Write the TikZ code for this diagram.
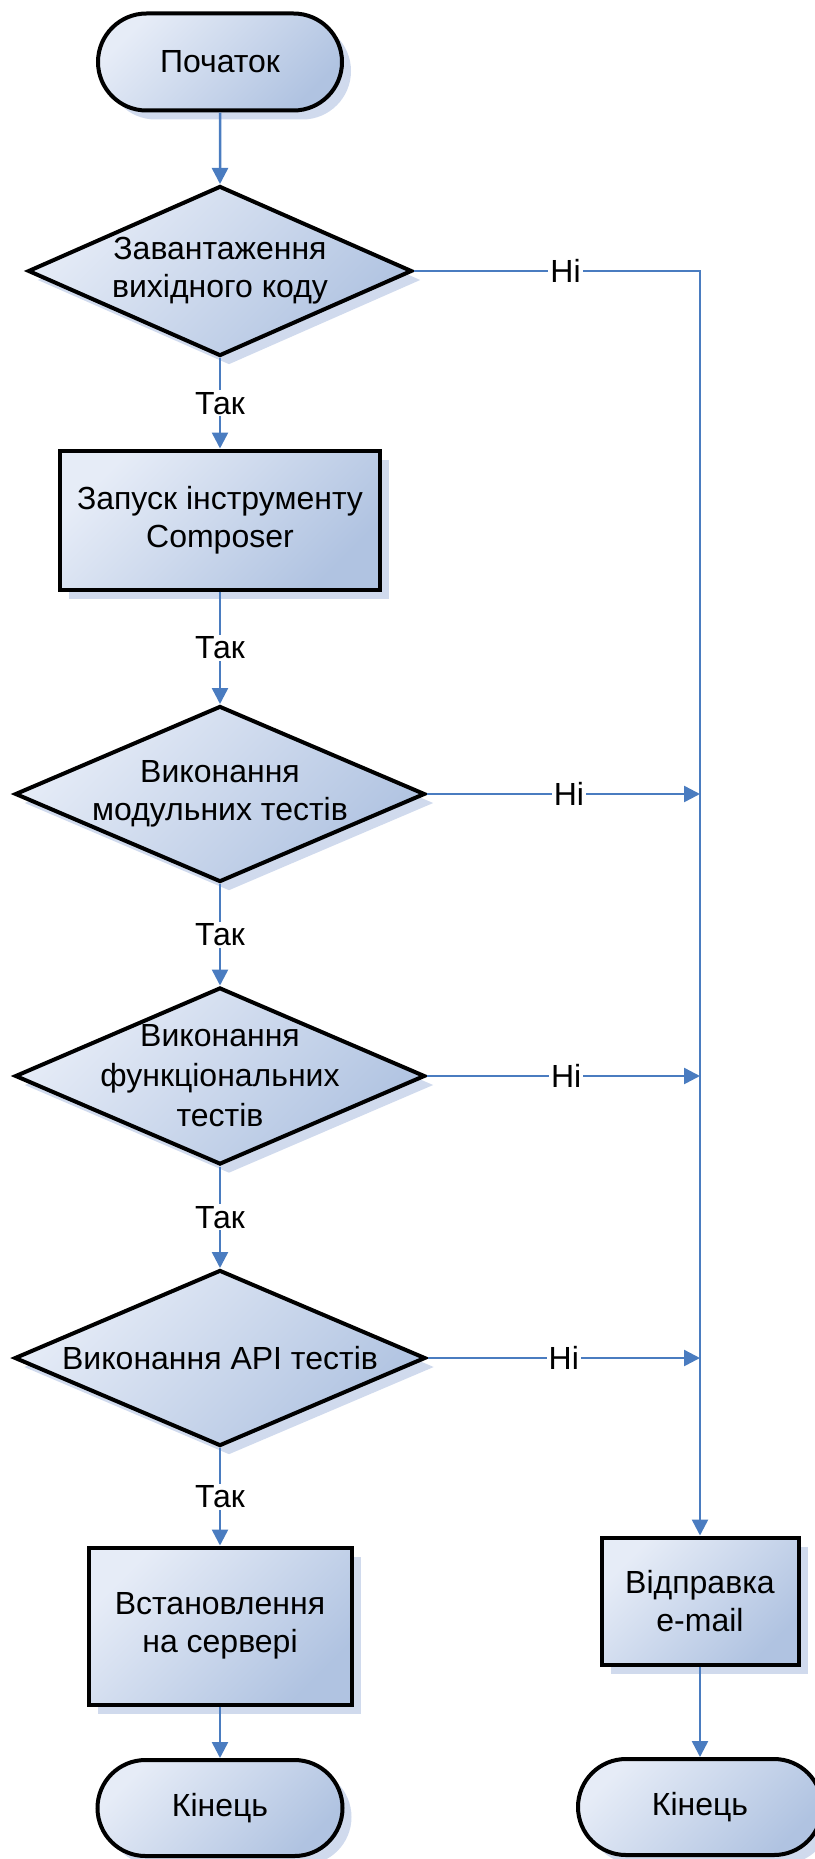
\documentclass[tikz,border=0pt]{standalone}
\usepackage{fontspec}
\setmainfont{Liberation Sans}
\usetikzlibrary{shapes.geometric,shapes.misc,arrows.meta,shadows}
\definecolor{fillA}{RGB}{230,236,247}
\definecolor{fillB}{RGB}{176,195,225}
\definecolor{shadowc}{RGB}{208,218,237}
\definecolor{linec}{RGB}{74,124,192}
\tikzset{
  shapebase/.style={draw=black, line width=4pt, top color=fillA, bottom color=fillB, shading angle=45,
    drop shadow={shadow xshift=9pt, shadow yshift=-9pt, fill=shadowc, opacity=1, draw=none},
    font=\fontsize{32}{38}\selectfont, align=center, inner sep=0pt},
  term/.style={shapebase, rounded rectangle},
  procbox/.style={shapebase, rectangle},
  decis/.style={shapebase, diamond},
  conn/.style={draw=linec, line width=2.5pt, -{Triangle[length=16pt,width=16pt]}},
  lbl/.style={fill=white, inner sep=2pt, font=\fontsize{32}{38}\selectfont, text=black}
}
\begin{document}
\begin{tikzpicture}[x=1pt,y=-1pt]
\useasboundingbox (0,0) rectangle (814,1859);
\node[term, minimum width=244pt, minimum height=97pt] (start) at (220,62) {Початок};
\node[decis, minimum width=384pt, minimum height=170pt] (d1) at (220,271) {};
\node[font=\fontsize{32}{38}\selectfont, align=center] (t1) at (220,271) {Завантаження\\вихідного коду};
\node[procbox, minimum width=320pt, minimum height=139pt] (r1) at (220,520) {Запуск інструменту\\Composer};
\node[decis, minimum width=410pt, minimum height=176pt] (d2) at (220,794) {};
\node[font=\fontsize{32}{38}\selectfont, align=center] (t2) at (220,794) {Виконання\\модульних тестів};
\node[decis, minimum width=410pt, minimum height=177pt] (d3) at (220,1076) {};
\node[font=\fontsize{32}{40}\selectfont, align=center] (t3) at (220,1076) {Виконання\\функціональних\\тестів};
\node[decis, minimum width=411pt, minimum height=176pt] (d4) at (220,1358) {};
\node[font=\fontsize{32}{38}\selectfont, align=center] (t4) at (220,1358) {Виконання API тестів};
\node[procbox, minimum width=263pt, minimum height=157pt] (r2) at (220,1626) {Встановлення\\на сервері};
\node[term, minimum width=245pt, minimum height=96pt] (end1) at (220,1808) {Кінець};
\node[procbox, minimum width=197pt, minimum height=127pt] (send) at (700,1601) {Відправка\\e-mail};
\node[term, minimum width=244pt, minimum height=96pt] (end2) at (700,1807) {Кінець};
\coordinate (corner) at (700,271);

\draw[conn] (start) -- (d1);
\draw[conn] (d1) -- node[lbl]{Так} (r1);
\draw[conn] (r1) -- node[lbl]{Так} (d2);
\draw[conn] (d2) -- node[lbl]{Так} (d3);
\draw[conn] (d3) -- node[lbl]{Так} (d4);
\draw[conn] (d4) -- node[lbl]{Так} (r2);
\draw[conn] (r2) -- (end1);
\draw[conn] (d1.east) -- node[lbl, pos=0.53]{Ні} (corner) -- (send.north);
\draw[conn] (d2.east) -- node[lbl, pos=0.52]{Ні} (d2.east -| corner);
\draw[conn] (d3.east) -- node[lbl, pos=0.51]{Ні} (d3.east -| corner);
\draw[conn] (d4.east) -- node[lbl, pos=0.5]{Ні} (d4.east -| corner);
\draw[conn] (send) -- (end2);
\end{tikzpicture}
\end{document}
